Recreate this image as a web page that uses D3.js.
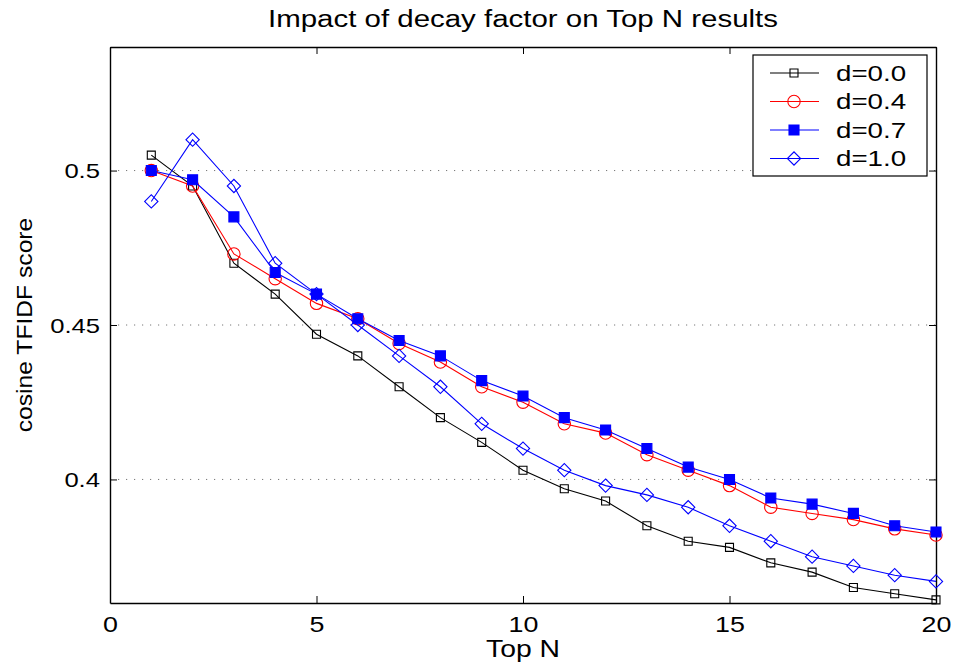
<!DOCTYPE html>
<html>
<head>
<meta charset="utf-8">
<script src="https://cdn.jsdelivr.net/npm/d3@7"></script>
<style>
  body { margin: 0; background: #fff; }
  text { font-family: "Liberation Sans", Arial, sans-serif; fill: #000; }
</style>
</head>
<body>
<div id="chart"></div>
<script>
// Data
var topN = [1, 2, 3, 4, 5, 6, 7, 8, 9, 10, 11, 12, 13, 14, 15, 16, 17, 18, 19, 20];
var d00 = [0.505, 0.495, 0.470, 0.460, 0.447, 0.440, 0.430, 0.420, 0.412, 0.403, 0.397, 0.393, 0.385, 0.380, 0.378, 0.373, 0.370, 0.365, 0.363, 0.361];
var d04 = [0.500, 0.495, 0.473, 0.465, 0.457, 0.452, 0.444, 0.438, 0.430, 0.425, 0.418, 0.415, 0.408, 0.403, 0.398, 0.391, 0.389, 0.387, 0.384, 0.382];
var d07 = [0.500, 0.497, 0.485, 0.467, 0.460, 0.452, 0.445, 0.440, 0.432, 0.427, 0.420, 0.416, 0.410, 0.404, 0.400, 0.394, 0.392, 0.389, 0.385, 0.383];
var d10 = [0.490, 0.510, 0.495, 0.470, 0.460, 0.450, 0.440, 0.430, 0.418, 0.410, 0.403, 0.398, 0.395, 0.391, 0.385, 0.380, 0.375, 0.372, 0.369, 0.367];
var seriesNames = ["d=0.0", "d=0.4", "d=0.7", "d=1.0"];
var xTicks = [0, 5, 10, 15, 20];
var yTicks = [0.4, 0.45, 0.5];
var yTickLabels = ["0.4", "0.45", "0.5"];

var svgWidth = 956;
var svgHeight = 668;
var margin = { top: 47, right: 20, bottom: 65, left: 110 };
var width = svgWidth - margin.left - margin.right;
var height = svgHeight - margin.top - margin.bottom;

// the original figure is stretched sideways, so text is widened a bit
function widen(sel, k) {
  sel.each(function () {
    var len = this.getComputedTextLength();
    d3.select(this).attr("textLength", len * (k || 1.22)).attr("lengthAdjust", "spacingAndGlyphs");
  });
}

var svg = d3.select("#chart")
  .append("svg")
  .attr("width", svgWidth)
  .attr("height", svgHeight);

var chartGroup = svg.append("g")
  .attr("transform", `translate(${margin.left}, ${margin.top})`);

var xScale = d3.scaleLinear().domain([0, 20]).range([0, width]);
var yScale = d3.scaleLinear().domain([0.36, 0.54]).range([height, 0]);

// dotted grid on the y ticks only
chartGroup.selectAll(".grid")
  .data(yTicks)
  .enter()
  .append("line")
  .attr("x1", 0)
  .attr("x2", width)
  .attr("y1", d => yScale(d))
  .attr("y2", d => yScale(d))
  .attr("stroke", "#777")
  .attr("stroke-width", 1)
  .attr("stroke-dasharray", "1.2,6.8");

// axes with inward ticks on all four sides
var tickLen = 7;
var bottomAxis = chartGroup.append("g")
  .attr("transform", `translate(0, ${height})`)
  .call(d3.axisBottom(xScale).tickValues(xTicks).tickSizeInner(-tickLen).tickSizeOuter(0).tickPadding(13));
var topAxis = chartGroup.append("g")
  .call(d3.axisTop(xScale).tickValues(xTicks).tickSizeInner(-tickLen).tickSizeOuter(0).tickFormat(""));
var leftAxis = chartGroup.append("g")
  .call(d3.axisLeft(yScale).tickValues(yTicks).tickSizeInner(-tickLen).tickSizeOuter(0).tickPadding(10)
    .tickFormat((d, i) => yTickLabels[i]));
var rightAxis = chartGroup.append("g")
  .attr("transform", `translate(${width}, 0)`)
  .call(d3.axisRight(yScale).tickValues(yTicks).tickSizeInner(-tickLen).tickSizeOuter(0).tickFormat(""));

chartGroup.selectAll(".domain").attr("stroke", "#000").attr("stroke-width", 1.4);
chartGroup.selectAll(".tick line").attr("stroke", "#000");

bottomAxis.selectAll("text").style("font-size", "22px").attr("dy", "0.71em").call(widen);
leftAxis.selectAll("text").style("font-size", "21px").attr("dy", "0.35em").call(widen);

// series definitions
var series = [
  { name: seriesNames[0], values: d00, color: "#000000", symbol: d3.symbolSquare, size: 64, fill: "none", rotate: 0 },
  { name: seriesNames[1], values: d04, color: "#ff0000", symbol: d3.symbolCircle, size: 120, fill: "none", rotate: 0 },
  { name: seriesNames[2], values: d07, color: "#0000ff", symbol: d3.symbolSquare, size: 100, fill: "#0000ff", rotate: 0 },
  { name: seriesNames[3], values: d10, color: "#0000ff", symbol: d3.symbolSquare, size: 88, fill: "none", rotate: 45 }
];

var line = d3.line()
  .x((d, i) => xScale(topN[i]))
  .y(d => yScale(d));

series.forEach(function (s) {
  var g = chartGroup.append("g");
  g.append("path")
    .attr("d", line(s.values))
    .attr("fill", "none")
    .attr("stroke", s.color)
    .attr("stroke-width", 1.1);
  g.selectAll("path.marker")
    .data(s.values)
    .enter()
    .append("path")
    .attr("class", "marker")
    .attr("d", d3.symbol(s.symbol, s.size))
    .attr("transform", (d, i) => `translate(${xScale(topN[i])}, ${yScale(d)}) rotate(${s.rotate})`)
    .attr("fill", s.fill)
    .attr("stroke", s.color)
    .attr("stroke-width", 1.1);
});

// legend
var legend = svg.append("g").attr("transform", "translate(753, 55)");
legend.append("rect")
  .attr("width", 174)
  .attr("height", 121)
  .attr("fill", "#fff")
  .attr("stroke", "#000")
  .attr("stroke-width", 1.2);

series.forEach(function (s, i) {
  var y = 18 + i * 28.5;
  legend.append("line")
    .attr("x1", 17).attr("x2", 66)
    .attr("y1", y).attr("y2", y)
    .attr("stroke", s.color)
    .attr("stroke-width", 1.1);
  legend.append("path")
    .attr("d", d3.symbol(s.symbol, s.size))
    .attr("transform", `translate(41, ${y}) rotate(${s.rotate})`)
    .attr("fill", s.fill)
    .attr("stroke", s.color)
    .attr("stroke-width", 1.1);
  legend.append("text")
    .attr("x", 83)
    .attr("y", y)
    .attr("dy", "0.36em")
    .style("font-size", "22px")
    .text(s.name)
    .call(widen, 1.26);
});

// title and axis labels
svg.append("text")
  .attr("x", margin.left + width / 2)
  .attr("y", 27)
  .style("font-size", "23px")
  .style("text-anchor", "middle")
  .text("Impact of decay factor on Top N results")
  .call(widen, 1.28);

svg.append("text")
  .attr("x", margin.left + width / 2)
  .attr("y", 657)
  .style("font-size", "24px")
  .style("text-anchor", "middle")
  .text("Top N")
  .call(widen, 1.18);

svg.append("text")
  .attr("transform", `translate(32, ${margin.top + height / 2}) rotate(-90)`)
  .style("font-size", "22px")
  .style("text-anchor", "middle")
  .text("cosine TFIDF score")
  .call(widen, 1.12);
</script>
</body>
</html>
